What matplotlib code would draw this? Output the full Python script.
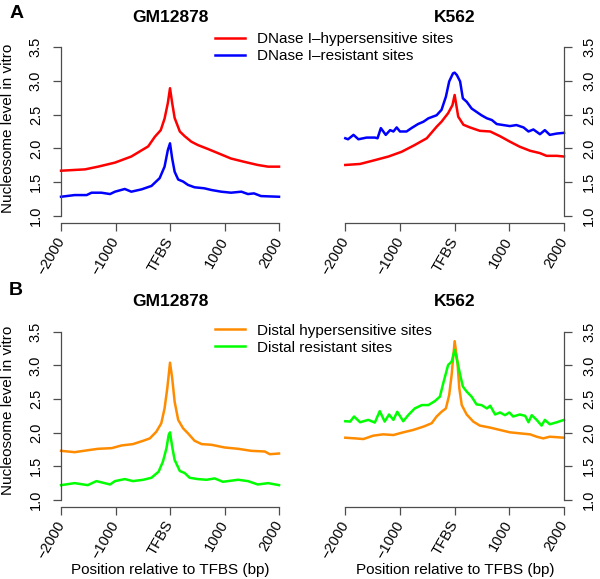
import matplotlib
matplotlib.use('Agg')
import matplotlib.pyplot as plt

plt.rcParams['font.family'] = ['Liberation Sans', 'DejaVu Sans']

# nucleosome level around TFBS (position in bp)

a_gm_hyper_x = [-2000, -1560, -1320, -1010, -710, -400, -280, -170, -100, -40, 0, 40, 85, 180, 270, 390, 510, 700, 880, 1120, 1370, 1610, 1800, 2000]
a_gm_hyper_y = [1.67, 1.69, 1.73, 1.79, 1.88, 2.03, 2.17, 2.27, 2.44, 2.67, 2.89, 2.67, 2.45, 2.25, 2.18, 2.10, 2.05, 1.99, 1.93, 1.85, 1.80, 1.755, 1.73, 1.73]

a_gm_resist_x = [-2000, -1750, -1530, -1440, -1260, -1100, -1010, -830, -710, -520, -340, -190, -100, -40, 0, 40, 85, 150, 240, 330, 450, 630, 760, 940, 1120, 1310, 1430, 1540, 1670, 2000]
a_gm_resist_y = [1.285, 1.31, 1.31, 1.345, 1.345, 1.325, 1.36, 1.40, 1.36, 1.395, 1.445, 1.56, 1.73, 1.975, 2.075, 1.85, 1.655, 1.54, 1.51, 1.46, 1.425, 1.41, 1.385, 1.36, 1.345, 1.36, 1.325, 1.335, 1.295, 1.285]

a_k562_hyper_x = [-2000, -1730, -1490, -1210, -970, -730, -510, -330, -240, -120, -40, 0, 65, 160, 280, 460, 650, 830, 1010, 1190, 1380, 1560, 1680, 1870, 2000]
a_k562_hyper_y = [1.755, 1.77, 1.82, 1.88, 1.95, 2.05, 2.15, 2.32, 2.395, 2.52, 2.64, 2.79, 2.47, 2.35, 2.31, 2.26, 2.25, 2.18, 2.10, 2.025, 1.965, 1.93, 1.89, 1.89, 1.88]

a_k562_resist_x = [-2000, -1950, -1850, -1760, -1610, -1460, -1410, -1350, -1260, -1180, -1120, -1060, -1000, -880, -790, -670, -570, -480, -330, -240, -160, -100, -30, 0, 40, 100, 150, 220, 310, 400, 490, 590, 680, 770, 890, 1010, 1130, 1260, 1350, 1440, 1560, 1650, 1740, 1870, 2000]
a_k562_resist_y = [2.15, 2.135, 2.20, 2.135, 2.16, 2.16, 2.15, 2.30, 2.20, 2.27, 2.25, 2.31, 2.25, 2.25, 2.30, 2.36, 2.395, 2.445, 2.49, 2.57, 2.765, 2.99, 3.11, 3.12, 3.085, 2.99, 2.74, 2.69, 2.59, 2.54, 2.49, 2.445, 2.42, 2.36, 2.345, 2.33, 2.345, 2.31, 2.25, 2.28, 2.21, 2.27, 2.20, 2.22, 2.23]

b_gm_hyper_x = [-2000, -1750, -1500, -1320, -1070, -890, -680, -490, -370, -250, -160, -100, -50, 0, 40, 85, 150, 240, 330, 450, 580, 760, 1000, 1250, 1490, 1740, 1830, 2000]
b_gm_hyper_y = [1.73, 1.71, 1.74, 1.76, 1.77, 1.81, 1.83, 1.88, 1.915, 2.015, 2.14, 2.36, 2.66, 3.04, 2.81, 2.46, 2.19, 2.065, 1.99, 1.88, 1.83, 1.82, 1.78, 1.76, 1.73, 1.72, 1.68, 1.69]

b_gm_resist_x = [-2000, -1750, -1510, -1350, -1200, -1100, -1010, -830, -680, -490, -340, -210, -130, -65, -25, 0, 40, 85, 180, 270, 360, 510, 670, 820, 970, 1250, 1430, 1610, 1800, 2000]
b_gm_resist_y = [1.22, 1.25, 1.22, 1.28, 1.25, 1.23, 1.28, 1.31, 1.28, 1.30, 1.33, 1.42, 1.57, 1.77, 1.965, 2.005, 1.79, 1.595, 1.43, 1.40, 1.33, 1.31, 1.30, 1.32, 1.27, 1.30, 1.28, 1.23, 1.25, 1.22]

b_k562_hyper_x = [-2000, -1820, -1670, -1490, -1310, -1120, -940, -760, -570, -420, -330, -240, -160, -100, -55, 0, 50, 85, 130, 220, 340, 460, 650, 830, 1010, 1190, 1380, 1500, 1620, 1740, 2000]
b_k562_hyper_y = [1.925, 1.915, 1.905, 1.955, 1.975, 1.965, 2.005, 2.04, 2.09, 2.14, 2.24, 2.31, 2.36, 2.56, 2.86, 3.36, 3.055, 2.66, 2.41, 2.27, 2.165, 2.105, 2.075, 2.04, 2.005, 1.99, 1.975, 1.94, 1.915, 1.94, 1.925]

b_k562_resist_x = [-2000, -1910, -1840, -1730, -1580, -1460, -1370, -1280, -1200, -1120, -1050, -940, -850, -730, -600, -480, -360, -270, -210, -120, -55, 0, 50, 100, 150, 220, 310, 400, 490, 590, 650, 740, 830, 920, 1000, 1070, 1190, 1290, 1350, 1410, 1500, 1590, 1650, 1740, 1870, 2000]
b_k562_resist_y = [2.17, 2.165, 2.24, 2.155, 2.19, 2.15, 2.32, 2.165, 2.27, 2.19, 2.31, 2.17, 2.26, 2.36, 2.41, 2.41, 2.47, 2.535, 2.73, 3.005, 3.055, 3.23, 3.055, 2.86, 2.685, 2.61, 2.535, 2.42, 2.41, 2.36, 2.40, 2.27, 2.30, 2.26, 2.30, 2.24, 2.27, 2.25, 2.155, 2.26, 2.19, 2.105, 2.19, 2.125, 2.155, 2.19]

x_ticks = [-2000, -1000, 0, 1000, 2000]
x_labels = ['\u22122000', '\u22121000', 'TFBS', '1000', '2000']
y_ticks = [1.0, 1.5, 2.0, 2.5, 3.0, 3.5]

axis_color = '#4d4d4d'

def draw_panel(ax, curves, side):
  """
  Draw one R-style panel: curves, open axes with bounded spines and rotated tick labels.
  """
  for (x, y, color) in curves:
    ax.plot(x, y, color = color, linewidth = 1.8, clip_on = False)
  ax.set_xlim(-2000, 2000)
  ax.set_ylim(0.9, 3.6)
  for name in ['top', 'right', 'left', 'bottom']:
    ax.spines[name].set_visible(False)
  ax.spines['bottom'].set_visible(True)
  ax.spines['bottom'].set_bounds(-2000, 2000)
  ax.spines[side].set_visible(True)
  ax.spines[side].set_bounds(1.0, 3.5)
  for name in ['bottom', side]:
    ax.spines[name].set_color(axis_color)
    ax.spines[name].set_linewidth(0.9)
  if side == 'right':
    ax.yaxis.tick_right()
  ax.set_xticks(x_ticks)
  ax.set_xticklabels(x_labels, rotation = 60, ha = 'right', va = 'center', rotation_mode = 'anchor')
  ax.set_yticks(y_ticks)
  ax.set_yticklabels(['%.1f' % v for v in y_ticks], rotation = 90, va = 'center')
  ax.tick_params(axis = 'both', length = 6, width = 0.9, color = axis_color, labelsize = 10.5)
  ax.tick_params(axis = 'x', pad = 5)
  ax.tick_params(axis = 'y', pad = 7)

fig = plt.figure(figsize = (6, 5.79), dpi = 100)

ax1 = fig.add_axes([0.1017, 0.6152, 0.3633, 0.3154])
ax2 = fig.add_axes([0.5755, 0.6152, 0.3645, 0.3154])
ax3 = fig.add_axes([0.1017, 0.1249, 0.3633, 0.3138])
ax4 = fig.add_axes([0.5755, 0.1249, 0.3645, 0.3138])

red, blue, orange, green = '#ff0000', '#0000ff', '#ff8c00', '#00ff00'

draw_panel(ax1, [(a_gm_hyper_x, a_gm_hyper_y, red), (a_gm_resist_x, a_gm_resist_y, blue)], 'left')
draw_panel(ax2, [(a_k562_resist_x, a_k562_resist_y, blue), (a_k562_hyper_x, a_k562_hyper_y, red)], 'right')
draw_panel(ax3, [(b_gm_hyper_x, b_gm_hyper_y, orange), (b_gm_resist_x, b_gm_resist_y, green)], 'left')
draw_panel(ax4, [(b_k562_hyper_x, b_k562_hyper_y, orange), (b_k562_resist_x, b_k562_resist_y, green)], 'right')

# titles, panel letters and shared labels

for (x, y, text) in [(0.2833, 0.970, 'GM12878'), (0.758, 0.970, 'K562'), (0.2833, 0.479, 'GM12878'), (0.758, 0.479, 'K562')]:
  fig.text(x, y, text, ha = 'center', va = 'center', fontsize = 12.5, fontweight = 'bold')
fig.text(0.027, 0.977, 'A', ha = 'center', va = 'center', fontsize = 14, fontweight = 'bold')
fig.text(0.027, 0.499, 'B', ha = 'center', va = 'center', fontsize = 14, fontweight = 'bold')

fig.text(0.014, 0.779, 'Nucleosome level in vitro', rotation = 90, ha = 'center', va = 'center', fontsize = 11)
fig.text(0.014, 0.292, 'Nucleosome level in vitro', rotation = 90, ha = 'center', va = 'center', fontsize = 11)
fig.text(0.2833, 0.016, 'Position relative to TFBS (bp)', ha = 'center', va = 'center', fontsize = 11)
fig.text(0.758, 0.016, 'Position relative to TFBS (bp)', ha = 'center', va = 'center', fontsize = 11)

# legends

h = ax1.get_lines()
fig.legend([h[0], h[1]], ['DNase I\u2013hypersensitive sites', 'DNase I\u2013resistant sites'], loc = 'center left', bbox_to_anchor = (0.358, 0.918), frameon = False, fontsize = 11, handlelength = 1.95, handletextpad = 0.78, labelspacing = 0.2, borderpad = 0, borderaxespad = 0)
h = ax3.get_lines()
fig.legend([h[0], h[1]], ['Distal hypersensitive sites', 'Distal resistant sites'], loc = 'center left', bbox_to_anchor = (0.358, 0.414), frameon = False, fontsize = 11, handlelength = 1.95, handletextpad = 0.78, labelspacing = 0.2, borderpad = 0, borderaxespad = 0)

fig.savefig('out.png', dpi = 100)
